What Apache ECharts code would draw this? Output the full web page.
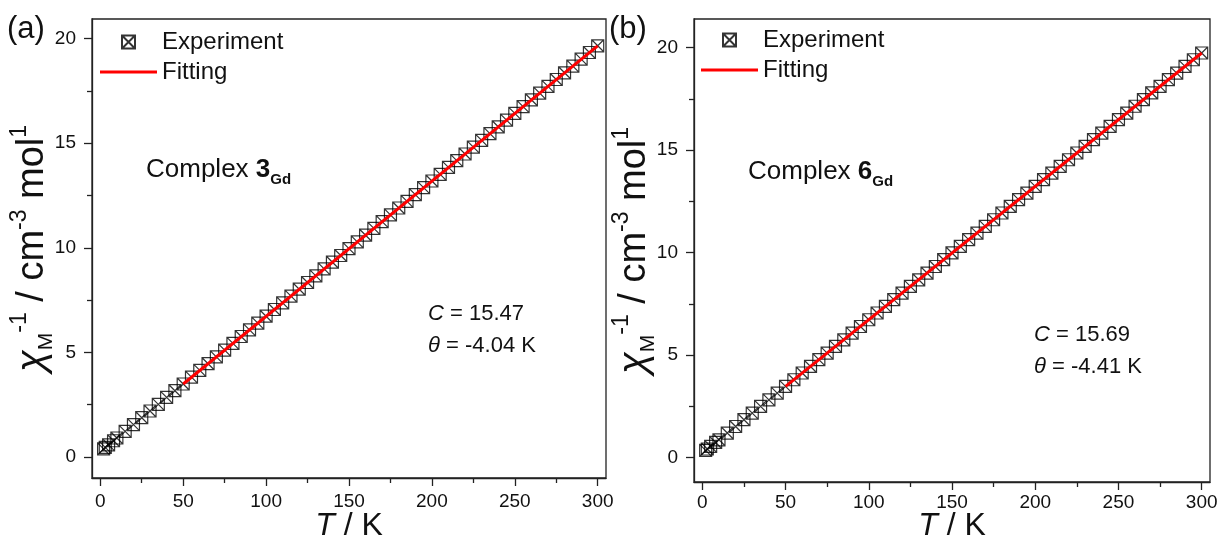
<!DOCTYPE html>
<html>
<head>
<meta charset="utf-8">
<script src="https://cdn.jsdelivr.net/npm/echarts@6/dist/echarts.min.js"></script>
<style>
html,body{margin:0;padding:0;background:#fff;}
#chart{width:1218px;height:542px;}
</style>
</head>
<body>
<div id="chart"></div>
<script>
// ---- data ----
const tempA = [2,3,5,8,10,15,20,25,30,35,40,45,50,55,60,65,70,75,80,85,90,95,100,105,110,115,120,125,130,135,140,145,150,155,160,165,170,175,180,185,190,195,200,205,210,215,220,225,230,235,240,245,250,255,260,265,270,275,280,285,290,295,300];
const chiA = [0.39,0.46,0.58,0.78,0.91,1.23,1.55,1.88,2.20,2.52,2.85,3.17,3.49,3.82,4.14,4.46,4.79,5.11,5.43,5.76,6.08,6.40,6.73,7.05,7.37,7.69,8.02,8.34,8.66,8.99,9.31,9.63,9.96,10.28,10.60,10.93,11.25,11.57,11.90,12.22,12.54,12.87,13.19,13.51,13.84,14.16,14.48,14.81,15.13,15.45,15.78,16.10,16.42,16.74,17.07,17.39,17.71,18.04,18.36,18.68,19.01,19.33,19.65];
const fitTA = [50, 300];
const fitA = [3.49, 19.65];

const tempB = [2,3,5,8,10,15,20,25,30,35,40,45,50,55,60,65,70,75,80,85,90,95,100,105,110,115,120,125,130,135,140,145,150,155,160,165,170,175,180,185,190,195,200,205,210,215,220,225,230,235,240,245,250,255,260,265,270,275,280,285,290,295,300];
const chiB = [0.34,0.41,0.54,0.73,0.86,1.19,1.51,1.84,2.16,2.49,2.81,3.14,3.47,3.79,4.12,4.44,4.77,5.09,5.42,5.74,6.07,6.39,6.72,7.05,7.37,7.70,8.02,8.35,8.67,9.00,9.32,9.65,9.98,10.30,10.63,10.95,11.28,11.60,11.93,12.25,12.58,12.90,13.23,13.56,13.88,14.21,14.53,14.86,15.18,15.51,15.83,16.16,16.49,16.81,17.14,17.46,17.79,18.11,18.44,18.76,19.09,19.41,19.74];
const fitTB = [50, 300];
const fitB = [3.47, 19.74];

const xMajor = [0,50,100,150,200,250,300];
const xMinor = [25,75,125,175,225,275];
const yMajor = [0,5,10,15,20];
const yMinor = [2.5,7.5,12.5,17.5];

const seriesNames = ['Experiment','Fitting'];
const complexA = ['Complex ', '3', 'Gd'];
const complexB = ['Complex ', '6', 'Gd'];
const paramsA = ['15.47', '-4.04 K'];
const paramsB = ['15.69', '-4.41 K'];
const panelLabels = ['(a)', '(b)'];

// ---- helpers ----
const FONT = 'Liberation Sans, Arial, sans-serif';
const pairs = (xs, ys) => xs.map((x, i) => [x, ys[i]]);
const markerPath = 'path://M0,0L10,0L10,10L0,10Z M0,0L10,10 M10,0L0,10';

const grids = [
  {left: 92, top: 19, width: 514, height: 459, show: true, borderColor: '#222', borderWidth: 1.3, backgroundColor: 'transparent', outerBoundsMode: 'none', containLabel: false},
  {left: 694, top: 19, width: 516, height: 463, show: true, borderColor: '#222', borderWidth: 1.3, backgroundColor: 'transparent', outerBoundsMode: 'none', containLabel: false}
];
const yRanges = [[-1, 20.93], [-1.2, 21.4]];

const xAxes = [], yAxes = [];
[0, 1].forEach(g => {
  xAxes.push({
    type: 'value', gridIndex: g, min: -5, max: 305, position: 'bottom',
    splitLine: {show: false},
    axisLine: {show: true, onZero: false, lineStyle: {color: '#222', width: 1.3}},
    axisTick: {show: true, length: 8, customValues: xMajor, lineStyle: {color: '#222', width: 1.3}},
    axisLabel: {show: true, customValues: xMajor, margin: g === 0 ? 14 : 11, fontSize: 19, color: '#111', fontFamily: FONT},
    name: '{i|T}{n| / K}', nameLocation: 'middle', nameMoveOverlap: false,
    nameGap: g === 0 ? 32 : 28,
    nameTextStyle: {rich: {
      i: {fontSize: 32, fontStyle: 'italic', fontFamily: FONT, color: '#111'},
      n: {fontSize: 32, fontFamily: FONT, color: '#111'}
    }}
  });
  xAxes.push({
    type: 'value', gridIndex: g, min: -5, max: 305, position: 'bottom',
    splitLine: {show: false}, axisLine: {show: false, onZero: false},
    axisTick: {show: true, length: 5, customValues: xMinor, lineStyle: {color: '#222', width: 1.3}},
    axisLabel: {show: false}
  });
  yAxes.push({
    type: 'value', gridIndex: g, min: yRanges[g][0], max: yRanges[g][1], position: 'left',
    splitLine: {show: false},
    axisLine: {show: true, onZero: false, lineStyle: {color: '#222', width: 1.3}},
    axisTick: {show: true, length: 8, customValues: yMajor, lineStyle: {color: '#222', width: 1.3}},
    axisLabel: {show: true, customValues: yMajor, margin: 16, fontSize: 19, color: '#111', fontFamily: FONT},
    name: '{c|χ}{sub|M}{sup|-1}{n| / cm}{sup|-3}{n| mol}{sup|1}',
    nameLocation: 'middle', nameMoveOverlap: false, nameGap: 31,
    nameTextStyle: {rich: {
      c: {fontSize: 40, fontStyle: 'italic', fontFamily: FONT, color: '#111', lineHeight: 56},
      n: {fontSize: 38, fontFamily: FONT, color: '#111', lineHeight: 56},
      sub: {fontSize: 21, fontFamily: FONT, color: '#111', lineHeight: 56, verticalAlign: 'bottom', padding: [0,0,4,0]},
      sup: {fontSize: 23, fontFamily: FONT, color: '#111', lineHeight: 56, verticalAlign: 'top', padding: [3,0,0,0]}
    }}
  });
  yAxes.push({
    type: 'value', gridIndex: g, min: yRanges[g][0], max: yRanges[g][1], position: 'left',
    splitLine: {show: false}, axisLine: {show: false, onZero: false},
    axisTick: {show: true, length: 5, customValues: yMinor, lineStyle: {color: '#222', width: 1.3}},
    axisLabel: {show: false}
  });
});

const scatterSeries = (g, xs, ys) => ({
  name: seriesNames[0], type: 'scatter', xAxisIndex: g * 2, yAxisIndex: g * 2,
  data: pairs(xs, ys), symbol: markerPath, symbolSize: 12,
  itemStyle: {color: 'rgba(255,255,255,0)', borderColor: '#000', borderWidth: 1.2},
  z: 2, emphasis: {disabled: true}
});
const fitSeries = (g, xs, ys) => ({
  name: seriesNames[1], type: 'line', xAxisIndex: g * 2, yAxisIndex: g * 2,
  data: pairs(xs, ys), showSymbol: false, symbol: 'none',
  lineStyle: {color: '#ff0000', width: 3}, itemStyle: {color: '#ff0000'},
  z: 3, emphasis: {disabled: true}
});

const legendCommon = {
  orient: 'vertical', itemWidth: 57, itemHeight: 13, itemGap: 0, padding: 0,
  selectedMode: false,
  data: [
    {name: seriesNames[0]},
    {name: seriesNames[1], icon: 'path://M0,0L57,0L57,3L0,3Z', itemStyle: {color: '#ff0000'}}
  ],
  textStyle: {fontSize: 24, fontFamily: FONT, color: '#111', lineHeight: 30}
};

const complexRich = {
  n: {fontSize: 26, fontFamily: FONT, fill: '#111', lineHeight: 34},
  b: {fontSize: 26, fontWeight: 'bold', fontFamily: FONT, fill: '#111', lineHeight: 34},
  s: {fontSize: 15, fontWeight: 'bold', fontFamily: FONT, fill: '#111', lineHeight: 34, verticalAlign: 'bottom'}
};
const paramRich = {
  i: {fontSize: 22, fontStyle: 'italic', fontFamily: FONT, fill: '#111'},
  n: {fontSize: 22, fontFamily: FONT, fill: '#111'}
};
const complexText = c => `{n|${c[0]}}{b|${c[1]}}{s|${c[2]}}`;
const paramText = p => `{i|C}{n| = ${p[0]}}\n{i|θ}{n| = ${p[1]}}`;
const richText = (x, y, text, rich, lh) => ({
  type: 'text', left: x, top: y,
  style: {text: text, rich: rich, lineHeight: lh, fontFamily: FONT, fill: '#111'}
});

const option = {
  animation: false,
  backgroundColor: '#ffffff',
  grid: grids,
  xAxis: xAxes,
  yAxis: yAxes,
  legend: [
    Object.assign({left: 100, top: 27}, legendCommon),
    Object.assign({left: 701, top: 25}, legendCommon)
  ],
  series: [
    scatterSeries(0, tempA, chiA), fitSeries(0, fitTA, fitA),
    scatterSeries(1, tempB, chiB), fitSeries(1, fitTB, fitB)
  ],
  graphic: [
    {type: 'text', left: 7, top: 14, style: {text: panelLabels[0], fontSize: 31, fontFamily: FONT, fill: '#111'}},
    {type: 'text', left: 609, top: 14, style: {text: panelLabels[1], fontSize: 31, fontFamily: FONT, fill: '#111'}},
    richText(146, 153, complexText(complexA), complexRich, 34),
    richText(748, 155, complexText(complexB), complexRich, 34),
    richText(428, 298, paramText(paramsA), paramRich, 32),
    richText(1034, 319, paramText(paramsB), paramRich, 32)
  ]
};

const chart = echarts.init(document.getElementById('chart'), null, {renderer: 'canvas'});
chart.setOption(option);
</script>
</body>
</html>
